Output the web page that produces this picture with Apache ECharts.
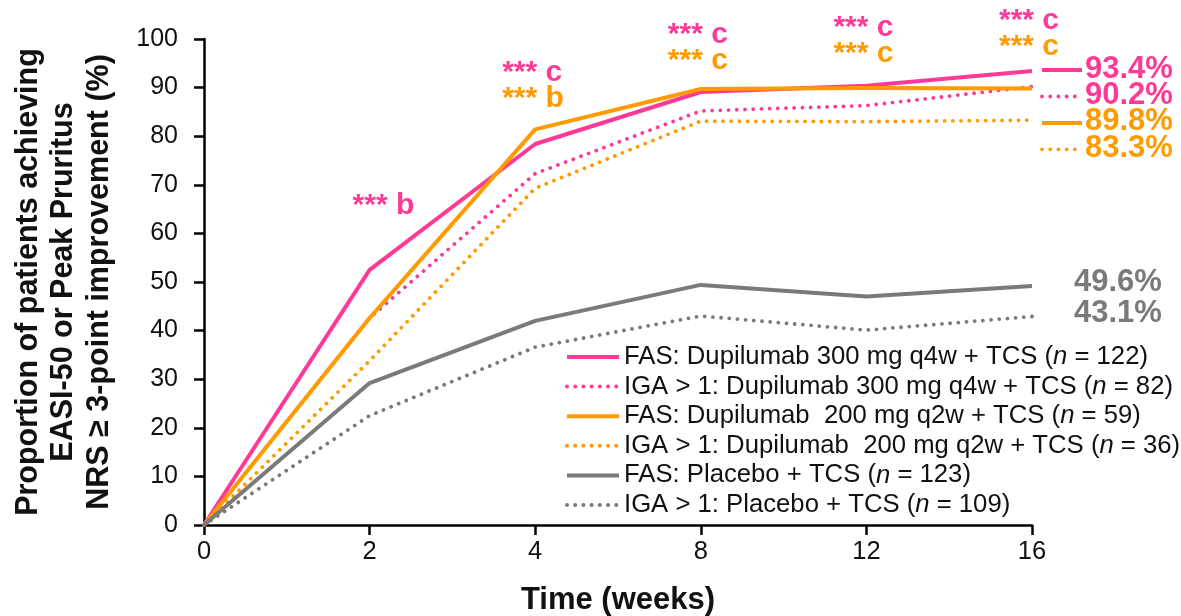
<!DOCTYPE html>
<html><head><meta charset="utf-8">
<script src="https://cdn.jsdelivr.net/npm/echarts@6/dist/echarts.min.js"></script>
<style>html,body{margin:0;padding:0;background:#fff}#c{width:1181px;height:616px}</style>
</head><body><div id="c"></div>
<script>
// ---- data ----
const weeks = ['0', '2', '4', '8', '12', '16'];
const fasDupi300 = [0, 52.5, 78.4, 89.1, 90.4, 93.4];
const igaDupi300 = [0, 42.6, 72.3, 85.2, 86.3, 90.2];
const fasDupi200 = [0, 42.6, 81.4, 89.7, 89.9, 89.8];
const igaDupi200 = [0, 33.8, 69.3, 83.1, 83.0, 83.3];
const fasPlacebo = [0, 29.2, 42.0, 49.4, 47.0, 49.2];
const igaPlacebo = [0, 22.5, 36.6, 43.0, 40.1, 42.9];
const seriesLabels = [
  'FAS: Dupilumab 300 mg q4w + TCS',
  'IGA > 1: Dupilumab 300 mg q4w + TCS',
  'FAS: Dupilumab  200 mg q2w + TCS',
  'IGA > 1: Dupilumab  200 mg q2w + TCS',
  'FAS: Placebo + TCS',
  'IGA > 1: Placebo + TCS'
];
const seriesN = [122, 82, 59, 36, 123, 109];
const endLabels = ['93.4%', '90.2%', '89.8%', '83.3%', '49.6%', '43.1%'];
const annotWeeks = ['2', '4', '4', '8', '8', '12', '12', '16', '16'];
const annotTexts = ['*** b', '*** c', '*** b', '*** c', '*** c', '*** c', '*** c', '*** c', '*** c'];
const annotGroup = [0, 0, 2, 0, 2, 0, 2, 0, 2];

// ---- style ----
const PINK = '#FF3A96', ORANGE = '#FF9A00', GRAY = '#7A7A7A';
const FONT = '"Liberation Sans", Arial, Helvetica, sans-serif';
const seriesData = [fasDupi300, igaDupi300, fasDupi200, igaDupi200, fasPlacebo, igaPlacebo];
const colors = [PINK, PINK, ORANGE, ORANGE, GRAY, GRAY];
const dotted = [false, true, false, true, false, true];
const lineTypeDot = [0.01, 8.2];

const chart = echarts.init(document.getElementById('c'), null, {renderer: 'canvas'});

const series = seriesData.map((d, i) => ({
  name: seriesLabels[i],
  type: 'line',
  data: d,
  symbol: 'none',
  smooth: false,
  z: 2 + i,
  lineStyle: dotted[i]
    ? {color: colors[i], width: 3.8, type: lineTypeDot, cap: 'round'}
    : {color: colors[i], width: 4, cap: 'butt', join: 'round'},
  itemStyle: {color: colors[i]}
}));

const option = {
  animation: false,
  backgroundColor: '#fff',
  grid: {left: 204, right: 149, top: 39, bottom: 91, containLabel: false, outerBoundsMode: 'none'},
  legend: {
    orient: 'vertical',
    left: 560,
    top: 339,
    itemWidth: 52,
    itemHeight: 14,
    itemGap: 3.6,
    data: seriesLabels,
    itemStyle: {opacity: 0},
    lineStyle: {width: 4},
    formatter: name => {
      const i = seriesLabels.indexOf(name);
      return '{t|' + name + ' (}{i|n}{t| = ' + seriesN[i] + ')}';
    },
    textStyle: {
      fontFamily: FONT, fontSize: 25.7, color: '#111', lineHeight: 26,
      rich: {
        t: {fontFamily: FONT, fontSize: 25.7, color: '#111', lineHeight: 26},
        i: {fontFamily: FONT, fontSize: 25.7, color: '#111', fontStyle: 'italic', lineHeight: 26}
      }
    }
  },
  xAxis: {
    type: 'category',
    data: weeks,
    boundaryGap: false,
    name: 'Time (weeks)',
    nameLocation: 'middle',
    nameGap: 60,
    nameTextStyle: {fontFamily: FONT, fontSize: 31, fontWeight: 'bold', color: '#111'},
    axisLine: {lineStyle: {color: '#000', width: 2.5}},
    axisTick: {show: true, length: 10, alignWithLabel: true, lineStyle: {color: '#000', width: 2.5}},
    axisLabel: {fontFamily: FONT, fontSize: 25.5, color: '#111', margin: 14},
    splitLine: {show: false}
  },
  yAxis: {
    type: 'value',
    min: 0, max: 100, interval: 10,
    name: 'Proportion of patients achieving\nEASI-50 or Peak Pruritus\nNRS \u2265 3-point improvement (%)',
    nameLocation: 'middle',
    nameRotate: 90,
    nameGap: 87,
    nameTextStyle: {fontFamily: FONT, fontSize: 30.5, fontWeight: 'bold', color: '#111', lineHeight: 35.5, align: 'center'},
    axisLine: {show: true, lineStyle: {color: '#000', width: 2.5}},
    axisTick: {show: true, length: 10, lineStyle: {color: '#000', width: 2.5}},
    axisLabel: {fontFamily: FONT, fontSize: 25, color: '#111', margin: 26},
    splitLine: {show: false}
  },
  series: series
};
chart.setOption(option);

// ---- annotations & end labels placed through the chart's own scales ----
function buildGraphics() {
  const g = [];
  const coord = {xAxisIndex: 0, yAxisIndex: 0};
  let prevY = -1e9;
  seriesData.forEach((d, i) => {
    const last = d.length - 1;
    const p = chart.convertToPixel(coord, [weeks[last], d[last]]);
    if (i < 4) {
      let y = p[1] - 2;
      if (i > 0) y = Math.max(y, prevY + 26.4);
      prevY = y;
      g.push({
        type: 'line', silent: true,
        shape: {x1: p[0] + 10, y1: y + 1, x2: p[0] + (dotted[i] ? 44 : 50), y2: y + 1},
        style: dotted[i]
          ? {stroke: colors[i], lineWidth: 3.8, lineDash: lineTypeDot, lineCap: 'round'}
          : {stroke: colors[i], lineWidth: 4}
      });
      g.push({
        type: 'text', silent: true, x: p[0] + 53, y: y,
        style: {text: endLabels[i], fill: colors[i], font: 'bold 31px ' + FONT, textAlign: 'left', textVerticalAlign: 'middle'}
      });
    } else {
      g.push({
        type: 'text', silent: true, x: p[0] + 42, y: p[1] - 3,
        style: {text: endLabels[i], fill: colors[i], font: 'bold 31px ' + FONT, textAlign: 'left', textVerticalAlign: 'middle'}
      });
    }
  });
  // significance annotations: pink row, orange row beneath it
  const rowPink = {'2': 216, '4': 83, '8': 45, '12': 38, '16': 31};
  annotWeeks.forEach((w, k) => {
    const src = seriesData[annotGroup[k]];
    const idx = weeks.indexOf(w);
    const p = chart.convertToPixel(coord, [w, src[idx]]);
    const base = rowPink[w] + (annotGroup[k] === 2 ? 26 : 0);
    const dx = (w === '2') ? -17 : -33;
    g.push({
      type: 'text', silent: true, x: p[0] + dx, y: base - 10.5,
      style: {text: annotTexts[k], fill: colors[annotGroup[k]], font: 'bold 30px ' + FONT, textAlign: 'left', textVerticalAlign: 'middle'}
    });
  });
  return g;
}
chart.setOption({graphic: buildGraphics()});
</script>
</body></html>
